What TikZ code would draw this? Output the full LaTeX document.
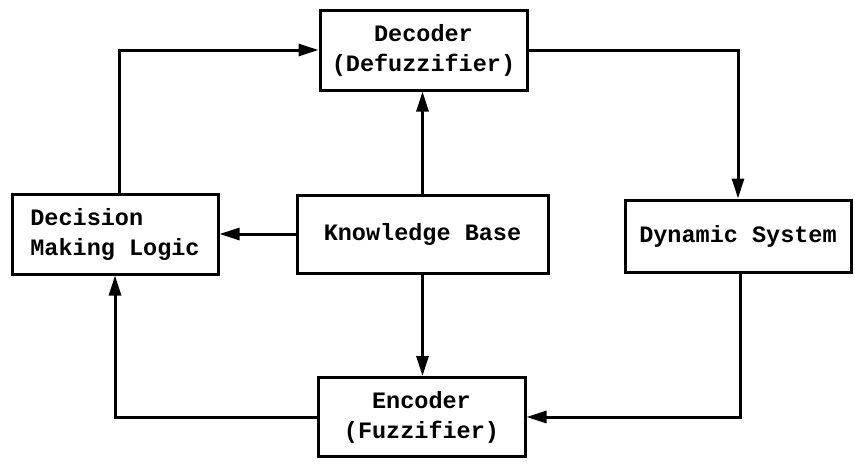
\documentclass[tikz,border=0pt]{standalone}
\usepackage{fontspec}
\setmonofont{Liberation Mono}
\usepackage{tikz}
\usetikzlibrary{arrows.meta, positioning}
\tikzstyle{block}=[rectangle, draw=black, line width=3pt, inner sep=0pt, font=\fontsize{23.5}{30}\selectfont\ttfamily\bfseries]
\tikzstyle{flow}=[line width=3pt, -{Triangle[length=20pt, width=12pt]}]

\begin{document}
\begin{tikzpicture}[x=1pt, y=-1pt]
    \useasboundingbox (0,0) rectangle (855,466);
    \node[block, minimum width=207pt, minimum height=80pt, align=center] (dec) at (423.5,50) {Decoder\\(Defuzzifier)};
		\node[block, minimum width=206pt, minimum height=80pt, align=left] (dml) at (115,234) {Decision\\Making Logic};
		\node[block, minimum width=251pt, minimum height=78pt] (kb) at (422.5,234) {Knowledge Base};
		\node[block, minimum width=226pt, minimum height=72pt] (dyn) at (738,236) {Dynamic System};
		\node[block, minimum width=207pt, minimum height=79pt, align=center] (enc) at (421.5,417) {Encoder\\(Fuzzifier)};

    \draw[flow] ([xshift=4pt]dml.north) |- (dec.west);
    \draw[flow] (kb.north) -- (kb.north |- dec.south);
    \draw[flow] (dec.east) -| (dyn.north);
    \draw[flow] (kb.west) -- (dml.east);
    \draw[flow] (kb.south) -- (kb.south |- enc.north);
    \draw[flow] ([xshift=2pt]dyn.south) |- (enc.east);
    \draw[flow] (enc.west) -| (dml.south);
  \end{tikzpicture}
\end{document}
